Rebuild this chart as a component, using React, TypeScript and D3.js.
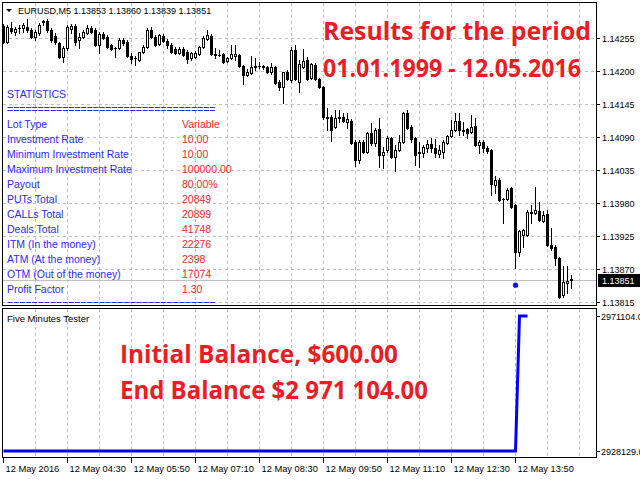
import React from 'react';
import * as d3 from 'd3';

// EURUSD M5, bar 0 = 12 May 03:10
const opens = [
  1.14275, 1.14248, 1.14272, 1.14265, 1.14272, 1.14272, 1.14273, 1.14268, 1.14257, 1.14263,
  1.14282, 1.14283, 1.14268, 1.14258, 1.14247, 1.14223, 1.14238, 1.1427, 1.14275, 1.14252,
  1.14257, 1.14263, 1.14272, 1.14268, 1.14243, 1.14262, 1.14257, 1.14243, 1.14238, 1.14238,
  1.14252, 1.14248, 1.14225, 1.14222, 1.14218, 1.14232, 1.1424, 1.14268, 1.14257, 1.14245,
  1.14258, 1.1425, 1.14243, 1.14237, 1.1423, 1.14237, 1.14232, 1.14222, 1.14223, 1.14228,
  1.1424, 1.14253, 1.14258, 1.14228, 1.14227, 1.14228, 1.14217, 1.14222, 1.14225, 1.14227,
  1.14208, 1.14193, 1.14197, 1.14208, 1.14208, 1.14208, 1.14207, 1.14198, 1.14207, 1.14182,
  1.14173, 1.14198, 1.14185, 1.14235, 1.14182, 1.14207, 1.14218, 1.14188, 1.1421, 1.14187,
  1.14173, 1.14123, 1.14123, 1.14107, 1.14123, 1.14123, 1.14115, 1.14117, 1.14082, 1.14052,
  1.14082, 1.14065, 1.14097, 1.1408, 1.14103, 1.1406, 1.14068, 1.14088, 1.14057, 1.14068,
  1.14082, 1.1413, 1.14107, 1.14088, 1.14065, 1.14063, 1.14072, 1.14078, 1.14072, 1.14062,
  1.14065, 1.1408, 1.14092, 1.14102, 1.14117, 1.14102, 1.14103, 1.14098, 1.14108, 1.14077,
  1.14082, 1.14072, 1.14068, 1.1401, 1.14018, 1.13987, 1.13987, 1.14005, 1.13977, 1.13898,
  1.13927, 1.13927, 1.13965, 1.13963, 1.13967, 1.1395, 1.13962, 1.1391, 1.13907, 1.13888,
  1.13827, 1.13847, 1.13853,
];
const highs = [
  1.14278, 1.14277, 1.14282, 1.14273, 1.14277, 1.1428, 1.14287, 1.14272, 1.14268, 1.1428,
  1.14285, 1.14287, 1.14272, 1.14263, 1.14248, 1.14242, 1.14277, 1.14278, 1.14278, 1.14263,
  1.14268, 1.14277, 1.14275, 1.14272, 1.14265, 1.14265, 1.1426, 1.14245, 1.1424, 1.14255,
  1.14255, 1.14252, 1.1423, 1.14225, 1.14232, 1.14243, 1.14272, 1.14273, 1.1426, 1.14262,
  1.14262, 1.14253, 1.14247, 1.1424, 1.1424, 1.1424, 1.14235, 1.14232, 1.14233, 1.14242,
  1.14258, 1.14268, 1.14262, 1.14238, 1.14235, 1.1423, 1.14223, 1.14243, 1.14243, 1.14228,
  1.1421, 1.14203, 1.14225, 1.14222, 1.14215, 1.1421, 1.14208, 1.14213, 1.14208, 1.14185,
  1.14198, 1.14202, 1.1424, 1.14243, 1.14218, 1.14237, 1.14223, 1.14213, 1.14213, 1.14188,
  1.14175, 1.14138, 1.14127, 1.14135, 1.14135, 1.1413, 1.1413, 1.1412, 1.14085, 1.14085,
  1.14085, 1.14098, 1.14113, 1.14105, 1.14122, 1.14073, 1.14092, 1.1409, 1.14077, 1.14093,
  1.14132, 1.14135, 1.1411, 1.1409, 1.14082, 1.14077, 1.14085, 1.14088, 1.14087, 1.14077,
  1.14085, 1.14093, 1.14118, 1.1413, 1.1413, 1.14115, 1.14105, 1.14127, 1.14122, 1.14085,
  1.14085, 1.14075, 1.1407, 1.14025, 1.14022, 1.13988, 1.14005, 1.14007, 1.13978, 1.13935,
  1.13937, 1.13968, 1.13977, 1.14007, 1.13982, 1.13967, 1.13968, 1.13938, 1.1391, 1.1389,
  1.13875, 1.13875, 1.1386,
];
const lows = [
  1.14247, 1.14247, 1.14263, 1.1426, 1.14263, 1.14265, 1.14265, 1.14255, 1.14252, 1.1426,
  1.14277, 1.14265, 1.14248, 1.14245, 1.14222, 1.14215, 1.14235, 1.14263, 1.14243, 1.14238,
  1.14255, 1.14262, 1.14263, 1.14242, 1.1423, 1.14253, 1.14238, 1.14235, 1.14223, 1.14237,
  1.14243, 1.14223, 1.14213, 1.1421, 1.14217, 1.1423, 1.14238, 1.14255, 1.14242, 1.14243,
  1.14248, 1.14238, 1.1423, 1.14228, 1.14228, 1.14225, 1.14213, 1.14218, 1.14222, 1.14227,
  1.14238, 1.14252, 1.14227, 1.14222, 1.14225, 1.14213, 1.14215, 1.1422, 1.14218, 1.14207,
  1.14178, 1.14192, 1.14195, 1.14202, 1.14205, 1.14203, 1.14197, 1.14195, 1.14178, 1.14168,
  1.14147, 1.14185, 1.14182, 1.14185, 1.14165, 1.14205, 1.14185, 1.14187, 1.14185, 1.14172,
  1.1412, 1.14102, 1.14083, 1.14105, 1.14115, 1.14115, 1.14105, 1.14078, 1.14042, 1.14047,
  1.14063, 1.14063, 1.14077, 1.14075, 1.1404, 1.14038, 1.14065, 1.14055, 1.14033, 1.14067,
  1.1408, 1.14103, 1.14082, 1.14043, 1.1404, 1.14057, 1.14065, 1.14065, 1.14057, 1.14057,
  1.14055, 1.14078, 1.1409, 1.141, 1.14093, 1.14093, 1.14088, 1.14097, 1.14075, 1.14063,
  1.14065, 1.14063, 1.13993, 1.13997, 1.13983, 1.13947, 1.13985, 1.13972, 1.13872, 1.13892,
  1.13907, 1.13925, 1.13947, 1.13962, 1.1395, 1.13948, 1.13908, 1.13902, 1.13877, 1.13822,
  1.13823, 1.1383, 1.13839,
];
const closes = [
  1.14248, 1.14273, 1.14267, 1.1427, 1.14271, 1.14277, 1.14268, 1.14257, 1.14265, 1.14277,
  1.14283, 1.14268, 1.14252, 1.14248, 1.14223, 1.14238, 1.14273, 1.14275, 1.14248, 1.14257,
  1.14265, 1.14272, 1.14265, 1.14243, 1.14262, 1.14255, 1.1424, 1.14237, 1.14239, 1.14252,
  1.14247, 1.14225, 1.1422, 1.14221, 1.14232, 1.1424, 1.14268, 1.14257, 1.14243, 1.1426,
  1.1425, 1.14243, 1.14232, 1.1423, 1.14237, 1.14227, 1.1422, 1.1423, 1.1423, 1.1424,
  1.14255, 1.1426, 1.14228, 1.14227, 1.14226, 1.14215, 1.14222, 1.14228, 1.14228, 1.14208,
  1.14193, 1.14198, 1.14207, 1.14207, 1.14209, 1.14207, 1.14198, 1.14207, 1.1418, 1.14173,
  1.14198, 1.14186, 1.14235, 1.14187, 1.14212, 1.14217, 1.14187, 1.14212, 1.14187, 1.14173,
  1.14123, 1.14122, 1.14102, 1.14122, 1.14122, 1.14116, 1.1412, 1.1408, 1.14052, 1.14082,
  1.14065, 1.14097, 1.1408, 1.14102, 1.1406, 1.14065, 1.14088, 1.14057, 1.14068, 1.14082,
  1.1413, 1.14105, 1.14087, 1.1406, 1.14064, 1.14073, 1.14078, 1.14072, 1.14063, 1.14068,
  1.14082, 1.14092, 1.14102, 1.14117, 1.14102, 1.141, 1.14097, 1.14107, 1.14077, 1.14082,
  1.14072, 1.14067, 1.14012, 1.14018, 1.13985, 1.13986, 1.14002, 1.13973, 1.13898, 1.13933,
  1.13935, 1.13965, 1.13964, 1.13968, 1.13952, 1.1396, 1.1391, 1.13905, 1.13888, 1.13823,
  1.13848, 1.1385, 1.13851,
];

const priceTicks = [1.14255, 1.142, 1.14145, 1.1409, 1.14035, 1.1398, 1.13925, 1.1387, 1.13815];
const lastPrice = 1.13851;
const timeTickBars = [0, 16, 32, 48, 64, 80, 96, 112, 128];
const timeTickLabels = [
  '12 May 2016', '12 May 04:30', '12 May 05:50', '12 May 07:10', '12 May 08:30',
  '12 May 09:50', '12 May 11:10', '12 May 12:30', '12 May 13:50',
];

// signal arrow (blue dot)
const signalBar = 128;
const signalPrice = 1.13843;

// Five Minutes Tester balance line
const balanceBars = [0, 128, 129, 131];
const balanceValues = [2928129, 2928129, 2971104, 2971104];
const balanceTicks = [2971104, 2928129];

const statLabels = [
  'Lot Type', 'Investment Rate', 'Minimum Investment Rate', 'Maximum Investment Rate', 'Payout',
  'PUTs Total', 'CALLs Total', 'Deals Total', 'ITM (In the money)', 'ATM (At the money)',
  'OTM (Out of the money)', 'Profit Factor',
];
const statValues = [
  'Variable', '10.00', '10.00', '100000.00', '80.00%', '20849', '20899', '41748', '22276', '2398',
  '17074', '1.30',
];

const header = 'EURUSD,M5  1.13853 1.13860 1.13839 1.13851';
const equalsLine = '==================================';

const UI_FONT = "'Liberation Sans', Arial, sans-serif";
const BIG_FONT = "'Open Sans', sans-serif";
const BLUE = '#2a2aff';
const RED = '#ff2424';
const BIG_RED = '#ec1c24';
const GRID = '#c0c0c0';

const frame = { left: 2.5, right: 596.5, top: 2.5, bottom: 305.5, subTop: 308.5, subBottom: 457.5 };

const App: React.FC = () => {
  const xBar = d3.scaleLinear().domain([0, 1]).range([3, 7]);
  const yPrice = d3
    .scaleLinear()
    .domain([priceTicks[priceTicks.length - 1], priceTicks[0]])
    .range([302, 38]);
  const yBal = d3.scaleLinear().domain([balanceTicks[1], balanceTicks[0]]).range([451, 316]);

  const gridBars = d3.range(8, 145, 8);

  const balanceLine = d3
    .line<number>()
    .x((b) => xBar(b) + 0.5)
    .y((_, i) => yBal(balanceValues[i]));

  const lastY = Math.round(yPrice(lastPrice));

  return (
    <svg width={640} height={480} style={{ position: 'absolute', left: 0, top: 0, background: '#fff' }}>
      <defs>
        <clipPath id="mainClip">
          <rect x={3} y={3} width={593} height={302} />
        </clipPath>
        <clipPath id="subClip">
          <rect x={3} y={309} width={593} height={148} />
        </clipPath>
      </defs>
      <rect x={0} y={0} width={640} height={480} fill="#fff" />

      {/* grid */}
      <g stroke={GRID} strokeDasharray="3,3" shapeRendering="crispEdges">
        {gridBars.map((b) => (
          <g key={b}>
            <line x1={xBar(b) + 0.5} x2={xBar(b) + 0.5} y1={3} y2={305} />
            <line x1={xBar(b) + 0.5} x2={xBar(b) + 0.5} y1={309} y2={457} />
          </g>
        ))}
        {priceTicks.map((p) => (
          <line key={p} x1={3} x2={596} y1={Math.round(yPrice(p)) + 0.5} y2={Math.round(yPrice(p)) + 0.5} />
        ))}
      </g>

      <g clipPath="url(#mainClip)">
        {/* statistics block */}
        <g fontFamily={UI_FONT} fontSize={10.5}>
          <text x={7} y={98} fill={BLUE}>STATISTICS</text>
          <text x={7} y={113} fill={BLUE}>{equalsLine}</text>
          {statLabels.map((s, i) => (
            <text key={s} x={7} y={128 + i * 15} fill={BLUE}>{s}</text>
          ))}
          {statValues.map((v, i) => (
            <text key={i} x={182} y={128 + i * 15} fill={RED}>{v}</text>
          ))}
          <text x={7} y={308} fill={BLUE}>{equalsLine}</text>
        </g>

        {/* current price line */}
        <line x1={3} x2={596} y1={lastY + 0.5} y2={lastY + 0.5} stroke={GRID} shapeRendering="crispEdges" />

        {/* candles */}
        <g shapeRendering="crispEdges">
          {opens.map((o, i) => {
            const c = closes[i];
            const cx = Math.round(xBar(i));
            const yO = Math.round(yPrice(o));
            const yC = Math.round(yPrice(c));
            const yH = Math.round(yPrice(highs[i]));
            const yL = Math.round(yPrice(lows[i]));
            const top = Math.min(yO, yC);
            const bot = Math.max(yO, yC);
            const bull = c > o && bot - top >= 1;
            return (
              <g key={i}>
                <line x1={cx + 0.5} x2={cx + 0.5} y1={yH} y2={yL + 1} stroke="#000" />
                {bull ? (
                  <rect x={cx - 0.5} y={top + 0.5} width={2} height={bot - top} fill="#fff" stroke="#000" />
                ) : (
                  <rect x={cx - 1} y={top} width={3} height={Math.max(bot - top + 1, 1)} fill="#000" />
                )}
              </g>
            );
          })}
        </g>

        <circle cx={xBar(signalBar) + 0.5} cy={yPrice(signalPrice)} r={2.6} fill="#1010ff" />

        {/* headline */}
        <g fontFamily={BIG_FONT} fontWeight={700} fontSize={25} fill={BIG_RED}>
          <text x={323} y={40} textLength={268} lengthAdjust="spacingAndGlyphs">Results for the period</text>
          <text x={323} y={77} textLength={258} lengthAdjust="spacingAndGlyphs">01.01.1999 - 12.05.2016</text>
        </g>
      </g>

      {/* symbol header */}
      <path d="M6,9 L12,9 L9,12 Z" fill="#000" />
      <text x={18} y={14} fontFamily={UI_FONT} fontSize={9} fill="#000">{header}</text>

      {/* indicator window */}
      <g clipPath="url(#subClip)">
        <path
          d={balanceLine(balanceBars) ?? ''}
          fill="none"
          stroke="#0000ff"
          strokeWidth={3}
        />
        <text x={7} y={322} fontFamily={UI_FONT} fontSize={9.5} fill="#000">Five Minutes Tester</text>
        <g fontFamily={BIG_FONT} fontWeight={700} fontSize={25} fill={BIG_RED}>
          <text x={120} y={363} textLength={278} lengthAdjust="spacingAndGlyphs">Initial Balance, $600.00</text>
          <text x={120} y={399} textLength={308} lengthAdjust="spacingAndGlyphs">End Balance $2 971 104.00</text>
        </g>
      </g>

      {/* frames */}
      <g fill="none" stroke="#000" shapeRendering="crispEdges">
        <rect x={frame.left} y={frame.top} width={frame.right - frame.left} height={frame.bottom - frame.top} />
        <rect
          x={frame.left}
          y={frame.subTop}
          width={frame.right - frame.left}
          height={frame.subBottom - frame.subTop}
        />
      </g>

      {/* price axis */}
      <g fontFamily={UI_FONT} fontSize={9} fill="#000">
        {priceTicks.map((p) => {
          const y = Math.round(yPrice(p)) + 0.5;
          return (
            <g key={p}>
              <line x1={597} x2={600} y1={y} y2={y} stroke="#000" shapeRendering="crispEdges" />
              <text x={602} y={y + 3.5}>{p.toFixed(5)}</text>
            </g>
          );
        })}
        <rect x={598} y={lastY - 6} width={42} height={13} fill="#000" />
        <text x={602} y={lastY + 4} fill="#fff">{lastPrice.toFixed(5)}</text>
      </g>

      {/* balance axis */}
      <g fontFamily={UI_FONT} fontSize={9} fill="#000">
        {balanceTicks.map((b) => {
          const y = Math.round(yBal(b)) + 0.5;
          return (
            <g key={b}>
              <line x1={597} x2={600} y1={y} y2={y} stroke="#000" shapeRendering="crispEdges" />
              <text x={601} y={y + 3.5}>{b.toFixed(2)}</text>
            </g>
          );
        })}
      </g>

      {/* time axis */}
      <g fontFamily={UI_FONT} fontSize={9.3} fill="#000">
        {timeTickBars.map((b, i) => {
          const x = Math.round(xBar(b)) + 0.5;
          return (
            <g key={b}>
              <line x1={x} x2={x} y1={458} y2={463} stroke="#000" shapeRendering="crispEdges" />
              <text x={x + 2} y={472}>{timeTickLabels[i]}</text>
            </g>
          );
        })}
      </g>
    </svg>
  );
};

export default App;
